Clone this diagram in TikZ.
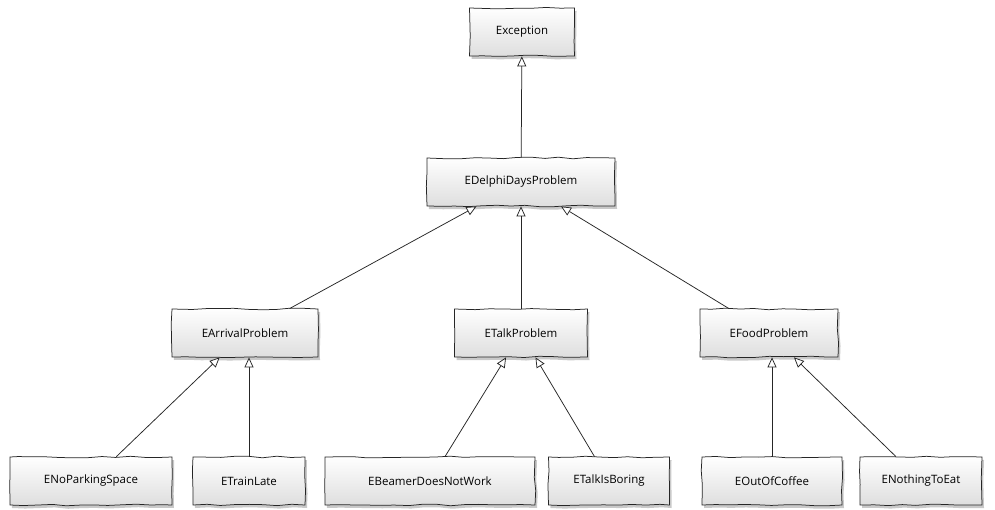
\documentclass[tikz,border=0pt]{standalone}
\usepackage{fontspec}
\setmainfont{Open Sans}
\usetikzlibrary{arrows.meta,shadows,decorations.pathmorphing}
\begin{document}
\pgfmathsetseed{7}
\begin{tikzpicture}[x=1pt,y=-1pt,
  cls/.style={rectangle, draw=black!85, line width=0.75pt,
    top color=white, bottom color=black!13,
    minimum height=48pt, inner sep=0pt,
    font=\fontsize{11.5}{13}\selectfont,
    decorate, decoration={random steps, segment length=14pt, amplitude=0.8pt},
    drop shadow={shadow xshift=2pt, shadow yshift=-3pt, opacity=0.35, fill=black!60}},
  inh/.style={draw=black!85, line width=0.75pt,
    -{Triangle[length=10pt, width=9pt, fill=white, line width=0.75pt]}}]
\useasboundingbox (0,0) rectangle (995,510);
\fill[white] (0,0) rectangle (995,510);

% class boxes
\node[cls, minimum width=105pt] (ex) at (522,32) {Exception};
\node[cls, minimum width=188pt] (dd) at (521,182) {EDelphiDaysProblem};
\node[cls, minimum width=146pt] (ar) at (245,333) {EArrivalProblem};
\node[cls, minimum width=133pt] (tp) at (521,333) {ETalkProblem};
\node[cls, minimum width=138pt] (fp) at (769,333) {EFoodProblem};
\node[cls, minimum width=162pt] (np) at (91,481) {ENoParkingSpace};
\node[cls, minimum width=112pt] (tl) at (249,481) {ETrainLate};
\node[cls, minimum width=210pt] (bd) at (430,481) {EBeamerDoesNotWork};
\node[cls, minimum width=121pt] (tb) at (609,481) {ETalkIsBoring};
\node[cls, minimum width=140pt] (oc) at (772,481) {EOutOfCoffee};
\node[cls, minimum width=122pt] (ne) at (921,481) {ENothingToEat};

% inheritance arrows
\draw[inh] (dd) -- (ex);
\draw[inh] (ar) -- (dd);
\draw[inh] (tp) -- (dd);
\draw[inh] (fp) -- (dd);
\draw[inh] (np) -- (ar);
\draw[inh] (tl) -- (tl |- ar.south);
\draw[inh] (bd) -- (tp);
\draw[inh] (tb) -- (tp);
\draw[inh] (oc) -- (oc |- fp.south);
\draw[inh] (ne) -- (fp);
\end{tikzpicture}
\end{document}
